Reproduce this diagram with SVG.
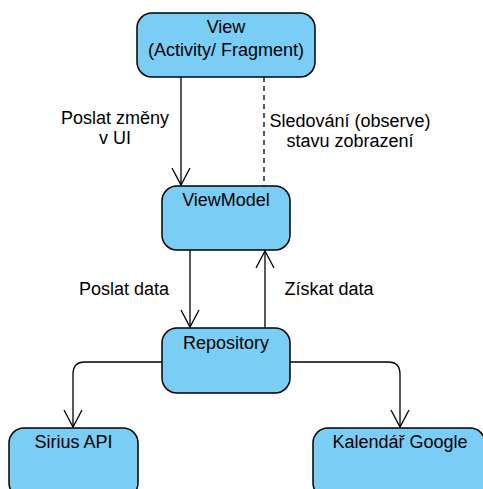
<svg xmlns="http://www.w3.org/2000/svg" width="483" height="489" viewBox="0 0 483 489">
  <style>
    .node rect { fill: #7ACDF5; stroke: #000; stroke-width: 1.5; }
    .node text, .label { font-family: "Liberation Sans", Arial, sans-serif; font-size: 18px; fill: #000; text-anchor: middle; }
    .edge { fill: none; stroke: #000; stroke-width: 1.3; }
    .dashed { stroke-dasharray: 5 4; }
    .head { fill: none; stroke: #000; stroke-width: 1.3; }
  </style>
  <rect width="483" height="489" fill="#fff"/>

  <g id="connectors">
    <!-- View -> ViewModel -->
    <path class="edge" d="M181 77 V185"/>
    <path class="head" d="M172 168 L181 185 L190 168"/>
    <!-- observe link -->
    <path class="edge dashed" d="M264 77 V186"/>
    <!-- ViewModel -> Repository -->
    <path class="edge" d="M190 250 V327"/>
    <path class="head" d="M181 310 L190 327 L199 310"/>
    <!-- Repository -> ViewModel -->
    <path class="edge" d="M265 328 V251"/>
    <path class="head" d="M256 268 L265 251 L274 268"/>
    <!-- Repository -> Sirius API -->
    <path class="edge" d="M162 362 H85 Q73 362 73 374 V427"/>
    <path class="head" d="M64 410 L73 427 L82 410"/>
    <!-- Repository -> Kalendář Google -->
    <path class="edge" d="M290 362 H388 Q400 362 400 374 V427"/>
    <path class="head" d="M391 410 L400 427 L409 410"/>
  </g>

  <g id="edge-labels">
    <text class="label" x="115" y="124">Poslat změny</text>
    <text class="label" x="115" y="144">v UI</text>
    <text class="label" x="350" y="127">Sledování (observe)</text>
    <text class="label" x="350" y="147">stavu zobrazení</text>
    <text class="label" x="124" y="295">Poslat data</text>
    <text class="label" x="329" y="295">Získat data</text>
  </g>

  <g id="view" class="node">
    <rect x="137" y="13" width="178" height="64" rx="15"/>
    <text x="226" y="33">View</text>
    <text x="226" y="56">(Activity/ Fragment)</text>
  </g>

  <g id="viewmodel" class="node">
    <rect x="162" y="186" width="128" height="64" rx="15"/>
    <text x="226" y="206">ViewModel</text>
  </g>

  <g id="repository" class="node">
    <rect x="162" y="328" width="128" height="65" rx="15"/>
    <text x="226" y="349">Repository</text>
  </g>

  <g id="sirius-api" class="node">
    <rect x="9" y="428" width="129" height="70" rx="15"/>
    <text x="73.5" y="448">Sirius API</text>
  </g>

  <g id="kalendar-google" class="node">
    <rect x="313" y="428" width="172" height="70" rx="15"/>
    <text x="400" y="448">Kalendář Google</text>
  </g>
</svg>
